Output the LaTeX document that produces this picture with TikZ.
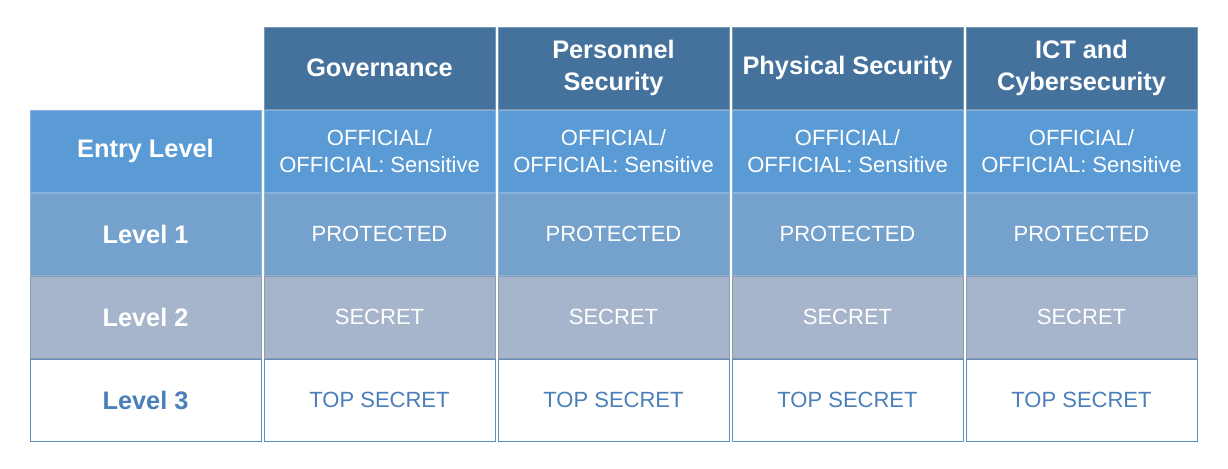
\documentclass[tikz,border=0pt]{standalone}
\usepackage{fontspec}
\setmainfont{Liberation Sans}
\usepackage{tikz}
\usepackage{xcolor}

\definecolor{headblue}{RGB}{68,114,157}
\definecolor{headline}{RGB}{125,152,182}
\definecolor{entryblue}{RGB}{91,155,213}
\definecolor{entryline}{RGB}{135,178,222}
\definecolor{oneblue}{RGB}{117,161,205}
\definecolor{oneline}{RGB}{140,176,214}
\definecolor{twogrey}{RGB}{166,181,204}
\definecolor{twoline}{RGB}{140,155,176}
\definecolor{threeline}{RGB}{92,142,196}
\definecolor{threetext}{RGB}{74,127,186}

\tikzset{
    cell/.style={draw, line width=0.75pt, anchor=north west, inner sep=0pt,
        minimum width=173.25pt, minimum height=61.6pt, align=center, text=white,
        font=\fontsize{16.5}{20}\selectfont},
    headcell/.style={cell, fill=headblue, draw=headline,
        font=\fontsize{19}{23.5}\selectfont\bfseries},
    rowcell/.style={cell, font=\fontsize{19}{23}\selectfont\bfseries},
    entrycell/.style={fill=entryblue, draw=entryline},
    onecell/.style={fill=oneblue, draw=oneline},
    twocell/.style={fill=twogrey, draw=twoline},
    threecell/.style={fill=white, draw=threeline, text=threetext}
}

\begin{document}
\begin{tikzpicture}[x=0.75pt, y=-0.75pt]
                            \useasboundingbox (0, 0) rectangle (1228, 468);
                            % column heads
                            \node[headcell] (hgov) at (263.5, 26.5) {Governance};
                            \node[headcell] (hpers) at (497.5, 26.5) {Personnel\\Security};
                            \node[headcell] (hphys) at (731.5, 26.5) {Physical Security};
                            \node[headcell] (hict) at (965.5, 26.5) {ICT and\\Cybersecurity};
                            % row heads
                            \node[rowcell, entrycell] (lentry) at (29.5, 109.5) {Entry Level};
                            \node[rowcell, onecell] (lone) at (29.5, 192.5) {Level 1};
                            \node[rowcell, twocell] (ltwo) at (29.5, 275.5) {Level 2};
                            \node[rowcell, threecell] (lthree) at (29.5, 358.5) {Level 3};
                            % body
                            \foreach \x/\i in {263.5/1, 497.5/2, 731.5/3, 965.5/4} {
                                \node[cell, entrycell] (entry\i) at (\x, 109.5) {OFFICIAL/\\OFFICIAL: Sensitive};
                                \node[cell, onecell] (one\i) at (\x, 192.5) {PROTECTED};
                                \node[cell, twocell] (two\i) at (\x, 275.5) {SECRET};
                                \node[cell, threecell] (three\i) at (\x, 358.5) {TOP SECRET};
                            }
                        \end{tikzpicture}
\end{document}
